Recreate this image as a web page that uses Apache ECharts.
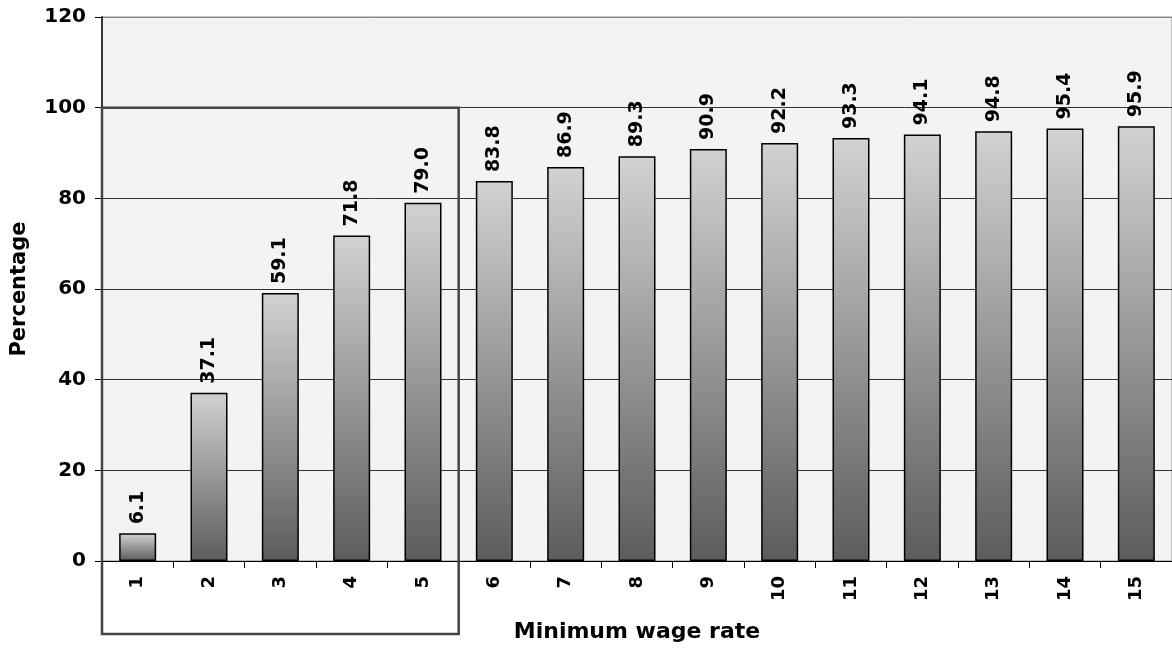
<!DOCTYPE html>
<html>
<head>
<meta charset="utf-8">
<title>Minimum wage rate</title>
<script src="https://cdn.jsdelivr.net/npm/echarts@6/dist/echarts.min.js"></script>
<style>
  html, body { margin: 0; padding: 0; background: #fff; }
  #main { width: 1172px; height: 648px; }
</style>
</head>
<body>
<div id="main"></div>
<script>
// categories and values
var rates = ['1', '2', '3', '4', '5', '6', '7', '8', '9', '10', '11', '12', '13', '14', '15'];
var percentages = [6.1, 37.1, 59.1, 71.8, 79.0, 83.8, 86.9, 89.3, 90.9, 92.2, 93.3, 94.1, 94.8, 95.4, 95.9];
// highlighted group (box around first five rates, up to 100%)
var boxFrom = '1';
var boxTo = '5';
var boxTop = 100;

var myChart = echarts.init(document.getElementById('main'));

var font = 'DejaVu Sans, Arial, sans-serif';

var option = {
    animation: false,
    backgroundColor: '#ffffff',
    grid: {
        left: 102,
        top: 17,
        width: 1074,
        bottom: 85,
        show: true,
        backgroundColor: '#f3f3f3',
        borderColor: '#8a8a8a',
        borderWidth: 1
    },
    xAxis: {
        type: 'category',
        data: rates,
        name: 'Minimum wage rate',
        nameLocation: 'middle',
        nameGap: 60,
        nameTextStyle: { fontFamily: font, fontWeight: 'bold', fontSize: 22, color: '#000' },
        axisLine: { lineStyle: { color: '#000', width: 1 } },
        axisTick: { show: true, length: 7, lineStyle: { color: '#000' } },
        axisLabel: {
            rotate: 90,
            margin: 15,
            fontFamily: font,
            fontWeight: 'bold',
            fontSize: 18,
            color: '#000'
        }
    },
    yAxis: {
        type: 'value',
        min: 0,
        max: 120,
        interval: 20,
        name: 'Percentage',
        nameLocation: 'middle',
        nameRotate: 90,
        nameGap: 72,
        nameTextStyle: { fontFamily: font, fontWeight: 'bold', fontSize: 21, color: '#000' },
        axisLine: { show: true, lineStyle: { color: '#333', width: 2 } },
        axisTick: { show: true, length: 7, lineStyle: { color: '#000' } },
        axisLabel: {
            margin: 16,
            fontFamily: font,
            fontWeight: 'bold',
            fontSize: 20,
            color: '#000'
        },
        splitLine: {
            lineStyle: {
                color: ['#333', '#333', '#333', '#333', '#333', '#333', '#8a8a8a'],
                width: 1
            }
        }
    },
    series: [{
        type: 'bar',
        data: percentages,
        barWidth: 37,
        itemStyle: {
            color: new echarts.graphic.LinearGradient(0, 0, 0, 1, [
                { offset: 0, color: '#d2d2d2' },
                { offset: 1, color: '#5c5c5c' }
            ]),
            borderColor: '#000',
            borderWidth: 1.5
        },
        label: {
            show: true,
            position: 'top',
            rotate: 90,
            align: 'left',
            verticalAlign: 'middle',
            distance: 9,
            fontFamily: font,
            fontWeight: 'bold',
            fontSize: 19,
            color: '#000',
            formatter: function (p) { return p.value.toFixed(1); }
        }
    }]
};

myChart.setOption(option);

// 方框：由坐标轴换算像素位置
function drawBox() {
    var pFrom = myChart.convertToPixel({ gridIndex: 0 }, [boxFrom, boxTop]);
    var pTo = myChart.convertToPixel({ gridIndex: 0 }, [boxTo, 0]);
    var bandWidth = (pTo[0] - pFrom[0]) / (rates.indexOf(boxTo) - rates.indexOf(boxFrom));
    var half = bandWidth / 2;
    var x0 = pFrom[0] - half;
    var x1 = pTo[0] + half;
    var y0 = pFrom[1];
    var y1 = pTo[1] + 73;
    myChart.setOption({
        graphic: [{
            type: 'rect',
            shape: { x: x0, y: y0, width: x1 - x0, height: y1 - y0 },
            style: { fill: 'none', stroke: '#444', lineWidth: 2.5 },
            z: 100
        }]
    });
}
drawBox();
</script>
</body>
</html>
